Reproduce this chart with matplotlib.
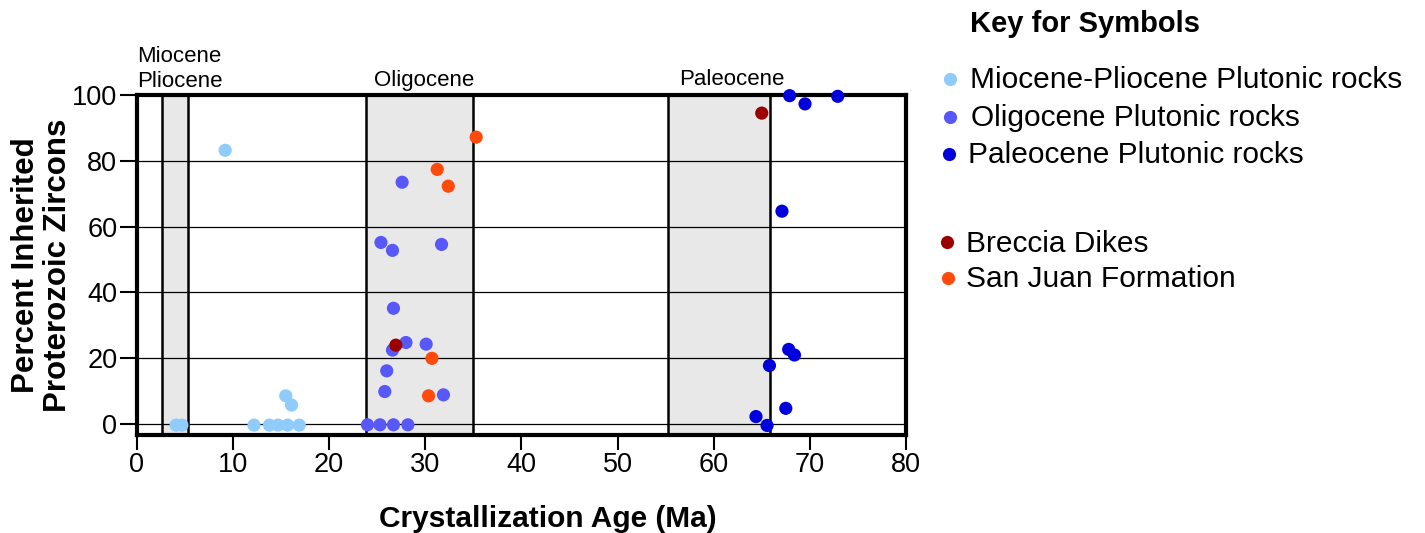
import numpy as np
import matplotlib
matplotlib.use("Agg")
import matplotlib.pyplot as plt
from matplotlib.lines import Line2D

plt.rcParams['font.family'] = ['Liberation Sans', 'DejaVu Sans']

# crystallization age (Ma) and percent inherited Proterozoic zircons
mio_age = [9.2, 4.1, 4.7, 12.2, 13.8, 14.7, 15.7, 16.9, 15.5, 16.1]
mio_pct = [83.2, -0.3, -0.3, -0.3, -0.3, -0.3, -0.3, -0.3, 8.6, 5.8]

oli_age = [27.6, 25.4, 26.6, 31.7, 26.7, 28.0, 26.6, 30.1, 26.0, 25.8, 31.9, 24.0, 25.3, 26.7, 28.2]
oli_pct = [73.5, 55.2, 52.8, 54.6, 35.2, 24.8, 22.5, 24.3, 16.2, 9.9, 8.9, -0.2, -0.2, -0.2, -0.2]

pal_age = [67.9, 69.5, 72.9, 67.1, 67.8, 68.4, 65.8, 67.5, 64.4, 65.55]
pal_pct = [99.8, 97.3, 99.6, 64.7, 22.7, 21.0, 17.8, 4.8, 2.3, -0.4]

brec_age = [26.95, 65.0]
brec_pct = [24.0, 94.5]

sj_age = [35.3, 31.25, 32.4, 30.7, 30.35]
sj_pct = [87.2, 77.4, 72.3, 20.0, 8.6]

series = [
    ("Miocene-Pliocene Plutonic rocks", mio_age, mio_pct, '#8fcbfb'),
    ("Oligocene Plutonic rocks", oli_age, oli_pct, '#5858f8'),
    ("Paleocene Plutonic rocks", pal_age, pal_pct, '#0000dc'),
    ("Breccia Dikes", brec_age, brec_pct, '#9b0000'),
    ("San Juan Formation", sj_age, sj_pct, '#ff4a0c'),
]

# epoch bands (Ma) and their labels
band_start = [2.6, 23.8, 55.3]
band_end = [5.3, 35.0, 65.9]
band_names = ["Miocene\nPliocene", "Oligocene", "Paleocene"]

W, H = 1425, 533
fig = plt.figure(figsize=(W / 100, H / 100), dpi=100)
ax = fig.add_axes([136.7 / W, 1 - 435 / H, (906 - 136.7) / W, (435 - 95) / H])

for s, e in zip(band_start, band_end):
    ax.axvspan(s, e, color='#e8e8e8', zorder=1, lw=0)
    ax.axvline(s, color='black', lw=1.8, zorder=2)
    ax.axvline(e, color='black', lw=1.8, zorder=2)

for yv in [0, 20, 40, 60, 80]:
    ax.axhline(yv, color='black', lw=0.9, zorder=2)

for label, xs, ys, c in series:
    ax.scatter(xs, ys, s=90, color=c, edgecolors='none', zorder=4, clip_on=False)

ax.text(0.0, 100.8, band_names[0], fontsize=16, ha='left', va='bottom', linespacing=1.25)
ax.text(29.9, 102.6, band_names[1], fontsize=16, ha='center', va='baseline')
ax.text(61.9, 103.1, band_names[2], fontsize=16, ha='center', va='baseline')

ax.set_xlim(0, 80)
ax.set_ylim(-3.3, 100)
ax.set_xticks(np.arange(0, 81, 10))
ax.set_yticks(np.arange(0, 101, 20))
for sp in ax.spines.values():
    sp.set_linewidth(3)
ax.tick_params(axis='x', length=11, width=1.5, pad=1.5, labelsize=19.5)
ax.tick_params(axis='y', length=12, width=1.5, pad=2, labelsize=19.5)

ax.set_xlabel("Crystallization Age (Ma)", fontsize=21.5, fontweight='bold')
ax.xaxis.set_label_coords(0.535, -0.205)
ax.set_ylabel("Percent Inherited\nProterozoic Zircons", fontsize=22.5, fontweight='bold',
              linespacing=1.08)
ax.yaxis.set_label_coords(-0.083, 0.5)

# key
fig.text(970 / W, 1 - 31.7 / H, "Key for Symbols", fontsize=21, fontweight='bold',
         ha='left', va='baseline')
key_base = [88.3, 126, 163.3, 251.7, 287.3]
key_tx = [970, 971, 968, 966, 966]
key_mx = [950, 950, 949, 947, 948]
for (label, _, _, c), yb, tx, mx in zip(series, key_base, key_tx, key_mx):
    fig.add_artist(Line2D([mx / W], [1 - (yb - 9.5) / H], transform=fig.transFigure,
                          marker='o', markersize=9.5, color=c, markeredgewidth=0, lw=0))
    fig.text(tx / W, 1 - yb / H, label, fontsize=21.5, ha='left', va='baseline')

fig.savefig("out.png", dpi=100)
